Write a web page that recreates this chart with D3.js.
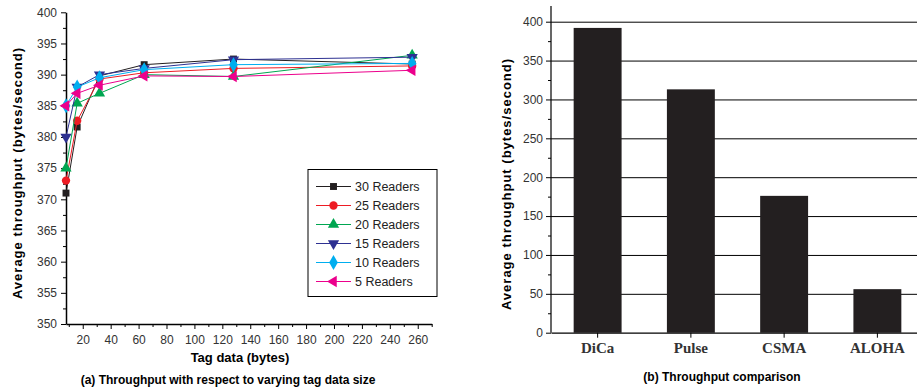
<!DOCTYPE html>
<head>
  <meta charset="utf-8">
  <script src="https://d3js.org/d3.v7.min.js"></script>
</head>
<style>
  body { margin: 0; background: #fff; }
  svg { font-family: "Liberation Sans", Arial, sans-serif; }
  .tick text { font-size: 12px; fill: #333; }
  .domain, .tick line { stroke: #000; }
</style>
<body>
<div id="chart"></div>
<script>
'use strict';

// (a) throughput vs tag data size
var tagSizes = [8, 16, 32, 64, 128, 256];
var readers30 = [371, 381.6, 389.8, 391.6, 392.5, 391.7];
var readers25 = [373, 382.6, 389.3, 390.3, 391, 391.4];
var readers20 = [375, 385.4, 387, 390, 389.7, 393.1];
var readers15 = [380, 388, 390, 391, 392.4, 392.8];
var readers10 = [385, 388, 389.5, 390.8, 391.6, 391.8];
var readers5  = [385, 387, 388.3, 389.8, 389.7, 390.7];
var seriesNames = ["30 Readers", "25 Readers", "20 Readers", "15 Readers", "10 Readers", "5 Readers"];

// (b) throughput comparison
var methods = ["DiCa", "Pulse", "CSMA", "ALOHA"];
var throughput = [392, 313, 176, 56];

var width = 917, height = 392;
var svg = d3.select("#chart").append("svg").attr("width", width).attr("height", height);

/* ---------- left chart ---------- */
var x = d3.scaleLinear().domain([8, 270]).range([66, 431.7]);
var y = d3.scaleLinear().domain([350, 400]).range([324, 12.3]);

var left = svg.append("g");

// minor ticks
left.append("g").attr("transform", "translate(0,324)")
  .call(d3.axisBottom(x).tickValues(d3.range(10, 271, 20)).tickSize(3).tickFormat(""))
  .call(g => g.select(".domain").remove());
left.append("g").attr("transform", "translate(66,0)")
  .call(d3.axisLeft(y).tickValues(d3.range(352.5, 400, 5)).tickSize(3).tickFormat(""))
  .call(g => g.select(".domain").remove());

left.append("g").attr("transform", "translate(0,324)")
  .call(d3.axisBottom(x).tickValues(d3.range(20, 261, 20)).tickSize(5).tickSizeOuter(0).tickPadding(6))
  .call(g => g.select(".domain").attr("stroke-width", 1.5));
left.append("g").attr("transform", "translate(66,0)")
  .call(d3.axisLeft(y).tickValues(d3.range(350, 401, 5)).tickSize(5).tickSizeOuter(0).tickPadding(4))
  .call(g => g.select(".domain").attr("stroke-width", 1.5));

var colors = ["#231f20", "#ed1c24", "#00a651", "#2e3192", "#00aeef", "#ec008c"];
var symbols = [
  {type: d3.symbolSquare, size: 48, rot: 0},
  {type: d3.symbolCircle, size: 55, rot: 0},
  {type: d3.symbolTriangle, size: 55, rot: 0},
  {type: d3.symbolTriangle, size: 55, rot: 180},
  {type: d3.symbolDiamond, size: 65, rot: 0},
  {type: d3.symbolTriangle, size: 55, rot: -90}
];
var allSeries = [readers30, readers25, readers20, readers15, readers10, readers5];

var line = d3.line().x((d, i) => x(tagSizes[i])).y(d => y(d));

allSeries.forEach(function(vals, k) {
  var g = left.append("g");
  g.append("path").datum(vals)
    .attr("d", line).attr("fill", "none")
    .attr("stroke", colors[k]).attr("stroke-width", 1);
  g.selectAll("path.pt").data(vals).enter().append("path").attr("class", "pt")
    .attr("d", d3.symbol().type(symbols[k].type).size(symbols[k].size))
    .attr("transform", (d, i) => "translate(" + x(tagSizes[i]) + "," + y(d) + ") rotate(" + symbols[k].rot + ")")
    .attr("fill", colors[k]);
});

// legend
var legend = left.append("g").attr("transform", "translate(308,169.5)");
legend.append("rect").attr("width", 129).attr("height", 127)
  .attr("fill", "#fff").attr("stroke", "#000").attr("stroke-width", 1);
seriesNames.forEach(function(name, k) {
  var row = legend.append("g").attr("transform", "translate(0," + (17 + k * 19) + ")");
  row.append("line").attr("x1", 8).attr("x2", 43).attr("stroke", colors[k]).attr("stroke-width", 1);
  row.append("path")
    .attr("d", d3.symbol().type(symbols[k].type).size(symbols[k].size))
    .attr("transform", "translate(25.5,0) rotate(" + symbols[k].rot + ")")
    .attr("fill", colors[k]);
  row.append("text").attr("x", 47).attr("dy", "0.35em")
    .style("font-size", "12.5px").attr("fill", "#222").text(name);
});

left.append("text").attr("transform", "translate(22,173) rotate(-90)")
  .attr("text-anchor", "middle").style("font-size", "13px").style("font-weight", "bold")
  .style("letter-spacing", "1px").text("Average throughput (bytes/second)");
left.append("text").attr("x", 240).attr("y", 362)
  .attr("text-anchor", "middle").style("font-size", "13px").style("font-weight", "bold")
  .text("Tag data (bytes)");
left.append("text").attr("x", 228).attr("y", 384)
  .attr("text-anchor", "middle").style("font-size", "12px").style("font-weight", "bold")
  .text("(a) Throughput with respect to varying tag data size");

/* ---------- right chart ---------- */
var xb = d3.scaleBand().domain(methods).range([551, 924]).paddingInner(0.486).paddingOuter(0.243);
var yb = d3.scaleLinear().domain([0, 400]).range([332.7, 21.7]);

var right = svg.append("g");

// grid lines
right.append("g").attr("transform", "translate(551,0)")
  .call(d3.axisRight(yb).tickValues(d3.range(50, 401, 50)).tickSize(width - 551).tickFormat(""))
  .call(g => g.select(".domain").remove())
  .call(g => g.selectAll(".tick line").attr("stroke", "#222").attr("stroke-width", 1));

right.selectAll("rect.bar").data(throughput).enter().append("rect").attr("class", "bar")
  .attr("x", (d, i) => xb(methods[i]))
  .attr("width", xb.bandwidth())
  .attr("y", d => yb(d))
  .attr("height", d => yb(0) - yb(d))
  .attr("fill", "#231f20");

// minor y ticks
right.append("g").attr("transform", "translate(551,0)")
  .call(d3.axisLeft(yb).tickValues(d3.range(25, 400, 50)).tickSize(3).tickFormat(""))
  .call(g => g.select(".domain").remove());
right.append("g").attr("transform", "translate(551,0)")
  .call(d3.axisLeft(yb).tickValues(d3.range(0, 401, 50)).tickSize(5).tickSizeOuter(0).tickPadding(3))
  .call(g => g.select(".domain").attr("d", "M0,6V332.7").attr("stroke-width", 1.2));

right.append("g").attr("transform", "translate(0,332.7)")
  .call(d3.axisBottom(xb).tickSize(5).tickSizeOuter(0).tickPadding(5))
  .call(g => g.select(".domain").attr("stroke-width", 1.2))
  .call(g => g.selectAll(".tick text")
    .style("font-family", "'Liberation Serif', 'Times New Roman', serif")
    .style("font-size", "15px").style("font-weight", "bold").attr("fill", "#111"));

right.append("text").attr("transform", "translate(511,184) rotate(-90)")
  .attr("text-anchor", "middle").style("font-size", "13px").style("font-weight", "bold")
  .style("letter-spacing", "1px").text("Average throughput (bytes/second)");
right.append("text").attr("x", 722).attr("y", 381)
  .attr("text-anchor", "middle").style("font-size", "12px").style("font-weight", "bold")
  .text("(b) Throughput comparison");
</script>
</body>
